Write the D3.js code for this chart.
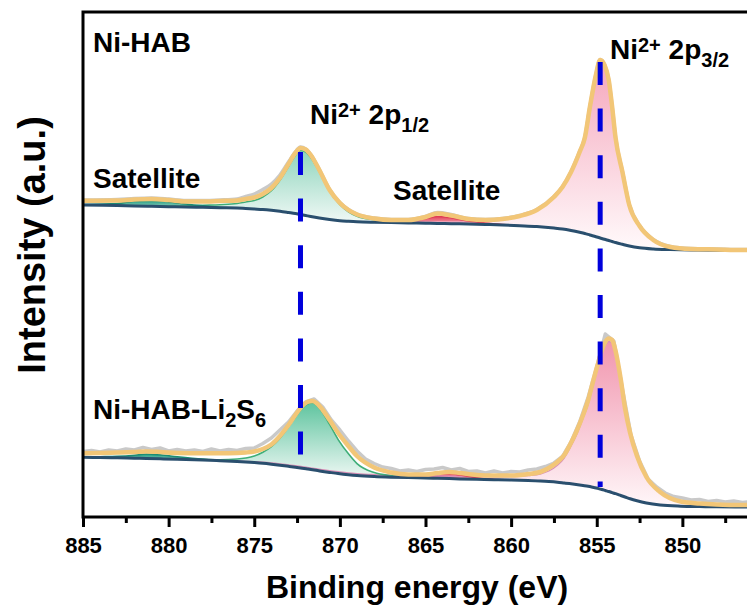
<!DOCTYPE html>
<html>
<head>
<meta charset="utf-8">
<script src="https://cdn.jsdelivr.net/npm/d3@7"></script>
<style>
  html, body { margin: 0; padding: 0; background: #fff; }
  svg { display: block; }
  text { font-family: "Liberation Sans", Arial, Helvetica, sans-serif; font-weight: bold; fill: #000; }
</style>
</head>
<body>
<svg id="chart" width="747" height="610"></svg>
<script>
// ---------- Ni 2p XPS data (binding energy in eV, intensity in a.u.) ----------

// Ni-HAB: energy grid of the fit
const energyA = [885, 883, 882, 881, 880, 879, 878, 877, 876, 875.5,
  875, 874.5, 874, 873.5, 873, 872.6, 872.3, 872, 871.7, 871.2,
  870.6, 870, 869.5, 869, 868, 867, 866, 865, 864.3, 863.5,
  862.5, 861.5, 860.5, 859.5, 858.5, 857.5, 857, 856.5, 856, 855.7,
  855.4, 855.05, 854.8, 854.55, 854.3, 854.1, 853.9, 853.5, 853.1, 852.5,
  851.7, 850.7, 849.5, 848, 846.5, 845];
// measured counts
const rawA = [317, 317.5, 318.5, 319, 318, 316.5, 316.5, 317, 318, 320.5,
  323, 327.5, 333, 342, 355, 365, 370, 368, 362.5, 347.5,
  327.5, 314.5, 307.5, 303, 299, 297.5, 297.5, 300.5, 304.5, 302.5,
  298.5, 297.5, 298.5, 301.5, 307.5, 320.5, 330.5, 345.5, 365.5, 379.5,
  410.5, 442.5, 457.5, 452.5, 437.5, 410.5, 379.5, 345.5, 312.5, 291.5,
  277.5, 270.5, 268.5, 268, 267.5, 267.5];
// fitted envelope
const envelopeA = [316.3, 316.5, 317.5, 318, 317, 315.5, 315.5, 316, 316.5, 318,
  319.5, 323, 329, 339, 353, 364, 369, 367.5, 362, 347,
  327, 314, 307, 302.5, 298.5, 297, 297, 300, 303.5, 301.5,
  298, 297, 298, 301, 307, 320, 330, 345, 365, 379,
  410, 442, 457, 452, 437, 410, 379, 345, 312, 291,
  277, 270, 268, 267.5, 267, 267];
// Shirley background
const backgroundA = [312, 311.5, 311, 310.7, 310.3, 310, 309.7, 309.3, 309, 308.5,
  308, 307.5, 306.7, 305.7, 304.5, 303.5, 302.5, 301.5, 300.5, 299,
  297.5, 296.3, 295.7, 295.2, 294.7, 294.4, 294.1, 293.8, 293.6, 293.3,
  293, 292.5, 292, 291.3, 290.5, 289, 288, 286.5, 284.7, 283.5,
  282, 280.3, 279, 277.7, 276.5, 275.5, 274.5, 272.7, 271, 269.2,
  268, 267.4, 267, 266.8, 266.7, 266.7];
// component peaks, height above the background
const p32A = [0, 0, 0, 0, 0, 0, 0, 0, 0, 0,
  0, 0, 0, 0, 0, 0, 0, 0, 0, 0,
  0, 0, 0, 0, 0, 0, 0, 1, 1.5, 1.8,
  2, 3, 5, 9, 16, 31, 42, 58.5, 80, 95.5,
  128, 161.7, 178, 174.3, 160.5, 134.5, 104.5, 72.3, 41, 21.8,
  9, 2.6, 1, 0.5, 0.3, 0.3];
const p12A = [0, 0, 0, 0.3, 0.5, 1, 2, 3, 4.5, 6.5,
  8.5, 12.5, 19.5, 31, 46, 58, 64, 63.5, 59, 46,
  28, 16, 9.5, 5.5, 2.5, 1, 0.5, 0, 0, 0,
  0, 0, 0, 0, 0, 0, 0, 0, 0, 0,
  0, 0, 0, 0, 0, 0, 0, 0, 0, 0,
  0, 0, 0, 0, 0, 0];
const satHighA = [0.5, 2, 5, 6, 5, 3, 1.5, 0.5, 0, 0,
  0, 0, 0, 0, 0, 0, 0, 0, 0, 0,
  0, 0, 0, 0, 0, 0, 0, 0, 0, 0,
  0, 0, 0, 0, 0, 0, 0, 0, 0, 0,
  0, 0, 0, 0, 0, 0, 0, 0, 0, 0,
  0, 0, 0, 0, 0, 0];
const satLowA = [0, 0, 0, 0, 0, 0, 0, 0, 0, 0,
  0, 0, 0, 0, 0, 0, 0, 0, 0, 0,
  0, 0, 0, 0, 0, 0.5, 1.5, 4.5, 7, 6,
  3, 1.5, 0.5, 0, 0, 0, 0, 0, 0, 0,
  0, 0, 0, 0, 0, 0, 0, 0, 0, 0,
  0, 0, 0, 0, 0, 0];

// Ni-HAB-Li2S6: energy grid of the fit
const energyB = [885, 884, 883, 882, 881.3, 880.5, 879.5, 878, 877, 876,
  875.5, 875, 874.5, 874, 873.5, 873, 872.6, 872.2, 871.9, 871.6,
  871.3, 871, 870.6, 870.1, 869.5, 869, 868, 867, 866, 865,
  864.3, 863.6, 863, 862, 861, 860, 859, 858.3, 857.8, 857.3,
  856.9, 856.6, 856.2, 855.8, 855.5, 855.3, 855.1, 854.9, 854.7, 854.5,
  854.3, 854.1, 853.9, 853.6, 853.35, 853.05, 852.65, 852.1, 851.3, 850.1,
  849, 848, 846.5, 845];
const envelopeB = [63.7, 64, 64.5, 65, 65.5, 65, 64, 63.7, 63.7, 64,
  64.5, 65.5, 68, 72.5, 81, 92, 102, 111, 115, 116,
  113, 107, 97, 84, 71, 61, 49.5, 44.5, 42.5, 42.5,
  44, 45, 44, 42, 41.5, 41.5, 43, 45, 49, 55,
  62, 71, 85, 102, 117, 130, 143, 155, 167, 175,
  178.5, 177, 166, 138, 109, 84, 61, 40, 25, 15.5,
  13.5, 12.5, 12, 12];
const backgroundB = [59.7, 59.5, 59.2, 58.8, 58.5, 58.2, 57.8, 57, 56.3, 55.5,
  55, 54.4, 53.7, 52.8, 51.8, 50.7, 49.8, 48.8, 48, 47.2,
  46.4, 45.6, 44.6, 43.4, 42.2, 41.4, 40.4, 39.8, 39.4, 39,
  38.7, 38.4, 38.1, 37.7, 37.3, 37, 36.5, 36, 35.5, 34.8,
  34, 33.4, 32.5, 31.5, 30.7, 30, 29.2, 28.4, 27.5, 26.5,
  25.5, 24.4, 23.3, 21.5, 20, 18.2, 16.2, 14, 12, 10.8,
  10.4, 10.2, 10, 10];
const p32B = [0, 0, 0, 0, 0, 0, 0, 0.2, 0.3, 0.5,
  0.6, 0.8, 1, 1.2, 1.3, 1.4, 1.5, 1.5, 1.6, 1.6,
  1.6, 1.7, 1.7, 1.8, 1.8, 1.9, 2, 2, 2.1, 2.2,
  2.3, 2.4, 2.5, 2.7, 3, 3.5, 5, 7, 10.5, 17,
  25, 34.5, 49, 67.5, 82.5, 96, 110, 123, 136, 145,
  150, 149.5, 140, 113.5, 86.5, 63, 43, 25, 12.5, 4.5,
  2.5, 1.5, 1, 1];
const p12B = [0, 0, 0, 0, 0, 0, 0.3, 0.6, 1, 2.5,
  4, 6.5, 11, 17.5, 27, 39.5, 50, 60, 65, 67,
  64.5, 58.5, 48, 34, 21, 12, 4, 1.5, 0.5, 0,
  0, 0, 0, 0, 0, 0, 0, 0, 0, 0,
  0, 0, 0, 0, 0, 0, 0, 0, 0, 0,
  0, 0, 0, 0, 0, 0, 0, 0, 0, 0,
  0, 0, 0, 0];
const satHighB = [0.3, 0.8, 1.5, 3, 4.5, 4, 2.5, 0.8, 0.3, 0,
  0, 0, 0, 0, 0, 0, 0, 0, 0, 0,
  0, 0, 0, 0, 0, 0, 0, 0, 0, 0,
  0, 0, 0, 0, 0, 0, 0, 0, 0, 0,
  0, 0, 0, 0, 0, 0, 0, 0, 0, 0,
  0, 0, 0, 0, 0, 0, 0, 0, 0, 0,
  0, 0, 0, 0];
const satLowB = [0, 0, 0, 0, 0, 0, 0, 0, 0, 0,
  0, 0, 0, 0, 0, 0, 0, 0, 0, 0,
  0, 0, 0, 0, 0, 0, 0, 0.3, 0.8, 2.5,
  4.3, 5, 4, 1.5, 0.5, 0, 0, 0, 0, 0,
  0, 0, 0, 0, 0, 0, 0, 0, 0, 0,
  0, 0, 0, 0, 0, 0, 0, 0, 0, 0,
  0, 0, 0, 0];
// measured counts, 0.5 eV steps
const rawEnergyB = [885, 884.5, 884, 883.5, 883, 882.5, 882, 881.5, 881, 880.5,
  880, 879.5, 879, 878.5, 878, 877.5, 877, 876.5, 876, 875.5,
  875, 874.5, 874, 873.5, 873, 872.5, 872, 871.5, 871, 870.5,
  870, 869.5, 869, 868.5, 868, 867.5, 867, 866.5, 866, 865.5,
  865, 864.5, 864, 863.5, 863, 862.5, 862, 861.5, 861, 860.5,
  860, 859.5, 859, 858.5, 858, 857.5, 857, 856.5, 856, 855.5,
  855, 854.5, 854, 853.5, 853, 852.5, 852, 851.5, 851, 850.5,
  850, 849.5, 849, 848.5, 848, 847.5, 847, 846.5, 846, 845.5,
  845];
const rawB = [65.5, 66.5, 65, 67, 66, 68, 67, 69.5, 67.5, 69,
  66, 67.5, 66, 67, 65.5, 68, 66, 67.5, 66.5, 68.5,
  69, 73.5, 79, 87, 95, 106, 115, 118, 110, 97,
  87, 76, 66, 58, 53.5, 50, 48.5, 46, 47, 45.5,
  47.5, 48, 49.5, 47, 48.5, 45.5, 46, 44, 46, 44,
  45.5, 45, 47, 48, 50.5, 54, 60.5, 75, 95, 120,
  150, 183, 176, 128, 82, 56, 38, 30, 24, 20.5,
  19, 17, 17.5, 15.5, 16.5, 15, 16, 14.5, 15.5, 14,
  15];

// axis ticks (eV); 845 sits just past the right edge of the view
const majorTicks = [885, 880, 875, 870, 865, 860, 855, 850];
const minorTicks = [882.5, 877.5, 872.5, 867.5, 862.5, 857.5, 852.5, 847.5];
// reference peak positions, drawn from the upper fit down to the lower one
const peakEnergies = [872.3, 854.8];
const peakLineTop = [365, 455];
const peakLineBottom = [62, 30];

// ---------- layout ----------
const svg = d3.select("#chart");
const plotLeft = 83, plotRight = 768, plotTop = 12, plotBottom = 517;

const x = d3.scaleLinear().domain([885, 845]).range([plotLeft, plotRight]);
const y = d3.scaleLinear().domain([0, 505]).range([plotBottom, plotTop]);

const defs = svg.append("defs");
function gradient(id, c0, c1) {
  const g = defs.append("linearGradient").attr("id", id)
    .attr("x1", 0).attr("y1", 0).attr("x2", 0).attr("y2", 1);
  g.append("stop").attr("offset", "0%").attr("stop-color", c0);
  g.append("stop").attr("offset", "100%").attr("stop-color", c1);
}
gradient("gPinkA", "#f5a6bc", "#fffafb");
gradient("gPinkB", "#f195ae", "#fff7f9");
gradient("gGreenA", "#8fd5bd", "#f1f9f6");
gradient("gGreenB", "#5fc49f", "#eef8f4");
gradient("gSatGreen", "#1f9a80", "#9ed8c6");
gradient("gSatRed", "#e2425a", "#f7b8c4");

defs.append("clipPath").attr("id", "plotClip")
  .append("rect").attr("x", plotLeft).attr("y", plotTop)
  .attr("width", plotRight - plotLeft).attr("height", plotBottom - plotTop);

const plot = svg.append("g").attr("clip-path", "url(#plotClip)");

// indices covering the non-zero part of a component (plus one point each side)
function support(values) {
  const first = values.findIndex(v => v > 0);
  let last = values.length - 1;
  while (last > 0 && !(values[last] > 0)) last--;
  const a = Math.max(0, first - 1), b = Math.min(values.length - 1, last + 1);
  return d3.range(a, b + 1);
}

function drawSpectrum(s) {
  const g = plot.append("g");
  const px = i => x(s.energy[i]);

  s.components.forEach(c => {
    const idx = support(c.values);
    const area = d3.area()
      .x(px)
      .y0(i => y(s.background[i]))
      .y1(i => y(s.background[i] + c.values[i]))
      .curve(d3.curveMonotoneX);
    g.append("path").attr("d", area(idx)).attr("fill", `url(#${c.fill})`);
  });
  s.components.forEach(c => {
    const idx = support(c.values);
    const line = d3.line().x(px)
      .y(i => y(s.background[i] + c.values[i]))
      .curve(d3.curveMonotoneX);
    g.append("path").attr("d", line(idx)).attr("fill", "none")
      .attr("stroke", c.stroke).attr("stroke-width", c.width);
  });

  const idxAll = d3.range(s.energy.length);
  g.append("path")
    .attr("d", d3.line().x(px).y(i => y(s.background[i])).curve(d3.curveMonotoneX)(idxAll))
    .attr("fill", "none").attr("stroke", "#2a4f6e").attr("stroke-width", 3);

  const rawIdx = d3.range(s.rawEnergy.length);
  g.append("path")
    .attr("d", d3.line().x(i => x(s.rawEnergy[i])).y(i => y(s.raw[i]))
      .curve(s.rawCurve)(rawIdx))
    .attr("fill", "none").attr("stroke", "#c9c9c9").attr("stroke-width", 3.5)
    .attr("stroke-linejoin", "round");

  g.append("path")
    .attr("d", d3.line().x(px).y(i => y(s.envelope[i])).curve(d3.curveMonotoneX)(idxAll))
    .attr("fill", "none").attr("stroke", "#f2c677").attr("stroke-width", 4.5)
    .attr("stroke-linejoin", "round");
}

drawSpectrum({
  energy: energyA, background: backgroundA, envelope: envelopeA,
  rawEnergy: energyA, raw: rawA, rawCurve: d3.curveMonotoneX,
  components: [
    { values: p32A, fill: "gPinkA", stroke: "#eeaac0", width: 1.4 },
    { values: p12A, fill: "gGreenA", stroke: "#3fae78", width: 1.5 },
    { values: satHighA, fill: "gSatGreen", stroke: "#1b8c74", width: 1.5 },
    { values: satLowA, fill: "gSatRed", stroke: "#e03c55", width: 1.5 }
  ]
});
drawSpectrum({
  energy: energyB, background: backgroundB, envelope: envelopeB,
  rawEnergy: rawEnergyB, raw: rawB, rawCurve: d3.curveLinear,
  components: [
    { values: p32B, fill: "gPinkB", stroke: "#d98fb6", width: 1.4 },
    { values: p12B, fill: "gGreenB", stroke: "#3fae78", width: 1.6 },
    { values: satHighB, fill: "gSatGreen", stroke: "#1b8c74", width: 1.5 },
    { values: satLowB, fill: "gSatRed", stroke: "#e03c55", width: 1.5 }
  ]
});

// dashed guides through the peak maxima
svg.append("g").selectAll("line").data(peakEnergies).join("line")
  .attr("x1", d => x(d)).attr("x2", d => x(d))
  .attr("y1", (d, i) => y(peakLineTop[i])).attr("y2", (d, i) => y(peakLineBottom[i]))
  .attr("stroke", "#0000dc").attr("stroke-width", 5)
  .attr("stroke-dasharray", "23 23.6");

// frame
svg.append("rect").attr("x", plotLeft).attr("y", plotTop)
  .attr("width", plotRight - plotLeft).attr("height", plotBottom - plotTop)
  .attr("fill", "none").attr("stroke", "#000").attr("stroke-width", 3);

// x axis
const axis = svg.append("g").attr("transform", `translate(0,${plotBottom})`)
  .call(d3.axisBottom(x).tickValues(majorTicks).tickSize(10).tickPadding(12)
    .tickFormat(d3.format("d")));
axis.select(".domain").remove();
axis.selectAll(".tick line").attr("stroke", "#000").attr("stroke-width", 3);
axis.selectAll(".tick text").attr("font-size", 22).attr("font-family", null)
  .attr("fill", "#000").attr("y", 36).attr("dy", null);

const minor = svg.append("g").attr("transform", `translate(0,${plotBottom})`)
  .call(d3.axisBottom(x).tickValues(minorTicks).tickSize(6).tickFormat(""));
minor.select(".domain").remove();
minor.selectAll(".tick line").attr("stroke", "#000").attr("stroke-width", 3);

// axis titles
svg.append("text").attr("x", 417).attr("y", 598).attr("text-anchor", "middle")
  .attr("font-size", 32).text("Binding energy (eV)");
svg.append("text").attr("transform", "translate(45,245) rotate(-90)")
  .attr("text-anchor", "middle").attr("font-size", 38).text("Intensity (a.u.)");

// annotations
function label(xp, yp, parts, size) {
  const t = svg.append("text").attr("x", xp).attr("y", yp).attr("font-size", size);
  let shift = 0;
  parts.forEach(p => {
    const s = p.sup ? -7 : p.sub ? 8 : 0;
    t.append("tspan").attr("dy", s - shift)
      .attr("font-size", p.sup || p.sub ? Math.round(size * 0.7) : size)
      .text(p.t);
    shift = s;
  });
  return t;
}
label(93, 52, [{ t: "Ni-HAB" }], 28);
label(93, 188, [{ t: "Satellite" }], 28);
label(393, 200, [{ t: "Satellite" }], 28);
label(310, 124, [{ t: "Ni" }, { t: "2+", sup: true }, { t: " 2p" }, { t: "1/2", sub: true }], 28);
label(610, 59, [{ t: "Ni" }, { t: "2+", sup: true }, { t: " 2p" }, { t: "3/2", sub: true }], 28);
label(93, 419, [{ t: "Ni-HAB-Li" }, { t: "2", sub: true }, { t: "S" }, { t: "6", sub: true }], 28);
</script>
</body>
</html>
